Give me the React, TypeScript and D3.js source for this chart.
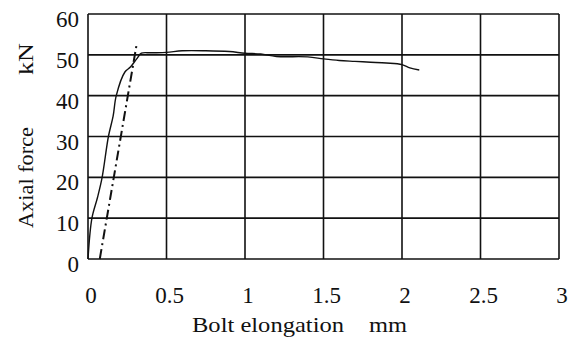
import * as d3 from 'd3';

// measured curve (bolt elongation mm, axial force kN)
const testX = [0, 0.025, 0.06, 0.09, 0.13, 0.16, 0.18, 0.235, 0.27, 0.31, 0.34, 0.4, 0.5, 0.6, 0.75, 0.9, 1.0, 1.1, 1.2, 1.4, 1.5, 1.6, 1.7, 1.8, 1.9, 2.0, 2.05, 2.11];
const testY = [0, 10, 15, 20, 30, 35, 40, 45.8, 47, 49, 50.4, 50.5, 50.6, 51, 51, 50.8, 50.4, 50.2, 49.6, 49.5, 49, 48.6, 48.4, 48.2, 48, 47.6, 46.8, 46.3];

// analysis line (dash-dot)
const calcX = [0.075, 0.31];
const calcY = [0, 52.6];

const xTicks = [0, 0.5, 1, 1.5, 2, 2.5, 3];
const yTicks = [0, 10, 20, 30, 40, 50, 60];

const FONT = "'Liberation Serif'";

export default function App() {
  const margin = { top: 14, right: 11, bottom: 83, left: 88 };
  const W = 570, H = 342;
  const width = W - margin.left - margin.right;
  const height = H - margin.top - margin.bottom;

  const x = d3.scaleLinear().domain([0, 3]).range([0, width]);
  const y = d3.scaleLinear().domain([0, 60]).range([height, 0]);

  const test = testX.map((v, i) => [v, testY[i]] as [number, number]);
  const calc = calcX.map((v, i) => [v, calcY[i]] as [number, number]);
  const testPath = d3.line<[number, number]>().x(d => x(d[0])).y(d => y(d[1])).curve(d3.curveCatmullRom)(test) || '';
  const calcPath = d3.line<[number, number]>().x(d => x(d[0])).y(d => y(d[1]))(calc) || '';

  const tickStyle = { fontFamily: FONT, fontSize: '23px' };
  const titleStyle = { fontFamily: FONT, fontSize: '22px' };

  return (
    <svg width={W} height={H} style={{ position: 'absolute', left: 0, top: 0, background: '#fff' }}>
      <g transform={`translate(${margin.left},${margin.top})`}>
        {xTicks.map(t => (
          <line key={'v' + t} x1={x(t)} x2={x(t)} y1={0} y2={height} stroke="#111" strokeWidth={1.6} />
        ))}
        {yTicks.map(t => (
          <line key={'h' + t} x1={0} x2={width} y1={y(t)} y2={y(t)} stroke="#111" strokeWidth={1.6} />
        ))}
        {xTicks.map(t => (
          <text key={'xl' + t} x={x(t) + 3} y={height + 44} textAnchor="middle" fill="#111" style={tickStyle}>
            {String(t)}
          </text>
        ))}
        {yTicks.map(t => (
          <text key={'yl' + t} x={-9} y={y(t) + 13} textAnchor="end" fill="#111" style={tickStyle}>
            {String(t)}
          </text>
        ))}
        <path d={testPath} fill="none" stroke="#111" strokeWidth={1.4} />
        <path d={calcPath} fill="none" stroke="#111" strokeWidth={2} strokeDasharray="10,4,2,4" />
      </g>
      <text x={192} y={332} fill="#111" style={titleStyle} textLength={152} lengthAdjust="spacingAndGlyphs">
        Bolt elongation
      </text>
      <text x={369} y={332} fill="#111" style={titleStyle} textLength={38} lengthAdjust="spacingAndGlyphs">
        mm
      </text>
      <text transform="translate(33,228) rotate(-90)" fill="#111" style={titleStyle} textLength={101} lengthAdjust="spacingAndGlyphs">
        Axial force
      </text>
      <text transform="translate(33,75) rotate(-90)" fill="#111" style={titleStyle} textLength={32} lengthAdjust="spacingAndGlyphs">
        kN
      </text>
    </svg>
  );
}
